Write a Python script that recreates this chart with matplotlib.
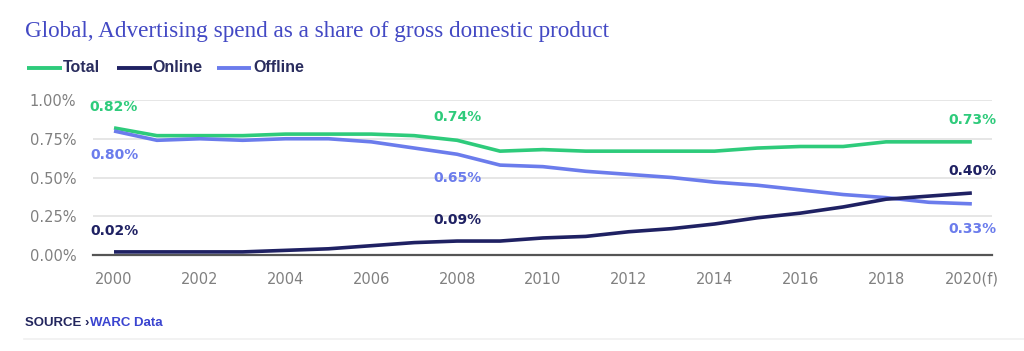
import matplotlib
matplotlib.use("Agg")
import matplotlib.pyplot as plt
from matplotlib.lines import Line2D

years = list(range(2000, 2021))
total = [0.82, 0.77, 0.77, 0.77, 0.78, 0.78, 0.78, 0.77, 0.74, 0.67, 0.68,
         0.67, 0.67, 0.67, 0.67, 0.69, 0.70, 0.70, 0.73, 0.73, 0.73]
online = [0.02, 0.02, 0.02, 0.02, 0.03, 0.04, 0.06, 0.08, 0.09, 0.09, 0.11,
          0.12, 0.15, 0.17, 0.20, 0.24, 0.27, 0.31, 0.36, 0.38, 0.40]
offline = [0.80, 0.74, 0.75, 0.74, 0.75, 0.75, 0.73, 0.69, 0.65, 0.58, 0.57,
           0.54, 0.52, 0.50, 0.47, 0.45, 0.42, 0.39, 0.37, 0.34, 0.33]
series_names = ["Total", "Online", "Offline"]
tick_years = list(range(2000, 2021, 2))
tick_labels = ["2000", "2002", "2004", "2006", "2008", "2010", "2012",
               "2014", "2016", "2018", "2020(f)"]
yticks = [0.0, 0.25, 0.5, 0.75, 1.0]
ytick_labels = ["0.00%", "0.25%", "0.50%", "0.75%", "1.00%"]

c_total = "#2ecb7b"
c_online = "#1f2163"
c_offline = "#6b7cec"
colors = [c_total, c_online, c_offline]

W, H = 1024, 351
fig = plt.figure(figsize=(W/100, H/100), dpi=100)
ax = fig.add_axes([93/W, 1-255/H, (992-93)/W, 155/H])

ax.plot(years, total, color=c_total, lw=2.6, solid_capstyle="butt", zorder=3)
ax.plot(years, offline, color=c_offline, lw=2.6, solid_capstyle="butt", zorder=3)
ax.plot(years, online, color=c_online, lw=2.6, solid_capstyle="butt", zorder=4)

ax.set_xlim(1999.51, 2020.47)
ax.set_ylim(0, 1.0)
ax.set_yticks(yticks)
ax.set_yticklabels(ytick_labels)
ax.set_xticks(tick_years)
ax.set_xticklabels(tick_labels)
ax.tick_params(axis="both", length=0, colors="#808080", labelsize=10.5)
ax.tick_params(axis="x", pad=12)
ax.tick_params(axis="y", pad=12)
ax.grid(axis="y", color="#e2e2e2", lw=1.2)
ax.set_axisbelow(True)
for s in ["top", "right", "left"]:
    ax.spines[s].set_visible(False)
ax.spines["bottom"].set_color("#555555")
ax.spines["bottom"].set_linewidth(1.6)

def ann(x, y, text, color, dy, ha="center", dx=0):
    ax.annotate(text, (x, y), xytext=(dx, dy), textcoords="offset pixels",
                ha=ha, va="center", color=color, fontsize=10,
                fontweight="bold", annotation_clip=False)

i0, i8, i20 = 0, 8, 20
ann(years[i0], total[i0], f"{total[i0]:.2f}%", c_total, 21)
ann(years[i0], offline[i0], f"{offline[i0]:.2f}%", c_offline, -24)
ann(years[i0], online[i0], f"{online[i0]:.2f}%", c_online, 21)
ann(years[i8], total[i8], f"{total[i8]:.2f}%", c_total, 23)
ann(years[i8], offline[i8], f"{offline[i8]:.2f}%", c_offline, -24)
ann(years[i8], online[i8], f"{online[i8]:.2f}%", c_online, 21)
ann(years[i20], total[i20], f"{total[i20]:.2f}%", c_total, 22, ha="right", dx=25)
ann(years[i20], online[i20], f"{online[i20]:.2f}%", c_online, 22, ha="right", dx=25)
ann(years[i20], offline[i20], f"{offline[i20]:.2f}%", c_offline, -25, ha="right", dx=25)

fig.text(25/W, 1-32/H, "Global, Advertising spend as a share of gross domestic product",
         fontsize=16.7, color="#4349c4", family="Liberation Serif", va="center")

# legend drawn manually
leg_line_x = [(27, 62), (117, 152), (217, 251)]
leg_text_x = [63, 152, 253]
ly = 1 - 68/H
for (x0, x1), tx, name, c in zip(leg_line_x, leg_text_x, series_names, colors):
    fig.add_artist(Line2D([x0/W, x1/W], [ly, ly], color=c, lw=2.8,
                          solid_capstyle="butt"))
    fig.text(tx/W, ly, name, fontsize=11.5, fontweight="bold", color="#2a2d5e",
             va="center", ha="left", family="Liberation Sans")

fig.text(25/W, 1-323/H, "SOURCE \u203a", fontsize=9.5, fontweight="bold",
         color="#23265e", va="center", family="Liberation Sans")
fig.text(90/W, 1-323/H, "WARC Data", fontsize=9.5, fontweight="bold",
         color="#3a44d0", va="center", family="Liberation Sans")
fig.add_artist(Line2D([24/W, 1], [1-339/H, 1-339/H], color="#f0f0f0", lw=1.2))

fig.savefig("out.png", dpi=100)
